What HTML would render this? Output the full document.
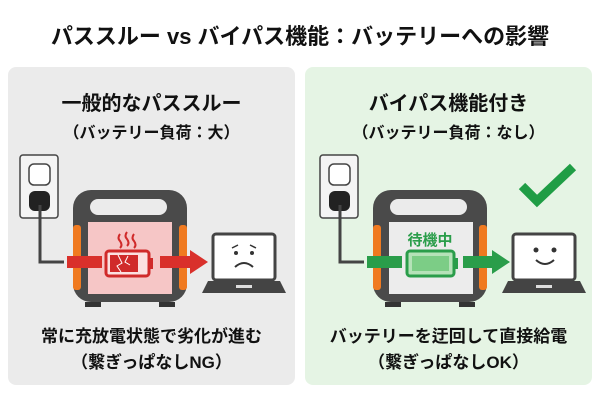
<!DOCTYPE html>
<html><head><meta charset="utf-8"><style>
body{margin:0;width:600px;height:400px;background:#fff;font-family:"Liberation Sans","Noto Sans CJK JP",sans-serif;overflow:hidden;position:relative}
.t{position:absolute;left:0;width:600px;text-align:center;font-weight:bold;color:#111}
</style></head><body>
<div class="t" style="top:19px;font-size:22px">パススルー vs バイパス機能：バッテリーへの影響</div>
<svg width="600" height="400" style="position:absolute;left:0;top:0;z-index:-1">
<rect x="8" y="67" width="287" height="318" rx="8" fill="#ebebeb"/>
<rect x="305" y="67" width="287" height="318" rx="8" fill="#e5f4e4"/>
<g id="L">
<rect x="20" y="155" width="38" height="63" rx="3" fill="#f4f4f4" stroke="#444" stroke-width="1.5"/>
<rect x="29" y="164" width="21" height="21" rx="5" fill="#fff" stroke="#444" stroke-width="1.5"/>
<rect x="29" y="191" width="21" height="20" rx="6" fill="#222"/>
<path d="M40 205 V262 H64" stroke="#444" stroke-width="3" fill="none"/>
<rect x="73" y="190" width="114" height="112" rx="18" fill="#4a4a4a"/>
<rect x="90" y="199" width="77" height="16" rx="8" fill="#ebebeb"/>
<rect x="73" y="225" width="8" height="65" rx="3" fill="#f07a20"/>
<rect x="179" y="225" width="8" height="65" rx="3" fill="#f07a20"/>
<rect x="85" y="302" width="16" height="5" fill="#333"/><rect x="159" y="302" width="16" height="5" fill="#333"/>
<rect x="213" y="234" width="62" height="46" rx="3" fill="#fff" stroke="#444" stroke-width="3"/>
<path d="M208 281 H280 L286 293 H202 Z" fill="#444"/>
<rect x="236" y="285" width="16" height="3" fill="#ddd"/>
</g>
<rect x="88" y="222" width="84" height="72" fill="#f6c6c6"/>
<rect x="67" y="256" width="35" height="12" fill="#d9302b"/>
<path d="M160 256 H190 V250 L208 262 L190 274 V268 H160 Z" fill="#d9302b"/>
<rect x="106" y="251" width="43" height="25" rx="3" fill="#fbe0e0" stroke="#d02a2a" stroke-width="3"/>
<rect x="149" y="258" width="4" height="11" fill="#d02a2a"/>
<rect x="110" y="255" width="28" height="17" fill="#d02a2a"/>
<path d="M118 255 l4 8 -5 3 4 6 M128 256 l-3 6 5 3" stroke="#fff" stroke-width="1" fill="none"/>
<path d="M120 234 q-3 4 0 7 q3 4 0 7 M127 232 q-3 4 0 7 q3 4 0 7 M134 234 q-3 4 0 7 q3 4 0 7" stroke="#d02a2a" stroke-width="2" fill="none"/>
<circle cx="236" cy="253" r="2" fill="#333"/><circle cx="252" cy="253" r="2" fill="#333"/>
<path d="M232 248 l6 -3 M256 248 l-6 -3" stroke="#333" stroke-width="1.5"/>
<path d="M235 267 q9 -8 18 0" stroke="#333" stroke-width="2" fill="none"/>
<use href="#L" x="300"/>
<rect x="389" y="222" width="84" height="72" fill="#ececec"/>
<rect x="367" y="256" width="35" height="12" fill="#2a9d4a"/>
<path d="M463 256 H492 V250 L510 262 L492 274 V268 H463 Z" fill="#2a9d4a"/>
<rect x="407" y="251" width="47" height="25" rx="3" fill="#b5e2b8" stroke="#2a9d4a" stroke-width="3"/>
<rect x="412" y="256" width="37" height="15" fill="#7ccd86"/>
<rect x="454" y="258" width="4" height="11" fill="#2a9d4a"/>
<text x="430" y="245" font-size="15" font-weight="bold" fill="#2a9d4a" text-anchor="middle" font-family="Liberation Sans,Noto Sans CJK JP,sans-serif">待機中</text>
<circle cx="536" cy="250" r="2.5" fill="#333"/><circle cx="554" cy="250" r="2.5" fill="#333"/>
<path d="M536 260 q9 8 18 0" stroke="#333" stroke-width="2" fill="none"/>
<path d="M522 186 L537 201 L573 167" stroke="#1f9d45" stroke-width="9" fill="none"/>
</svg>
<div class="t" style="top:87px;font-size:20px;left:8px;width:287px">一般的なパススルー</div>
<div class="t" style="top:119px;font-size:16px;left:8px;width:287px">（バッテリー負荷：大）</div>
<div class="t" style="top:87px;font-size:20px;left:305px;width:287px">バイパス機能付き</div>
<div class="t" style="top:119px;font-size:16px;left:305px;width:287px">（バッテリー負荷：なし）</div>
<div class="t" style="top:322px;font-size:17px;left:8px;width:287px">常に充放電状態で劣化が進む</div>
<div class="t" style="top:348px;font-size:17px;left:8px;width:287px">（繋ぎっぱなしNG）</div>
<div class="t" style="top:322px;font-size:17px;left:305px;width:287px">バッテリーを迂回して直接給電</div>
<div class="t" style="top:348px;font-size:17px;left:305px;width:287px">（繋ぎっぱなしOK）</div>
</body></html>
